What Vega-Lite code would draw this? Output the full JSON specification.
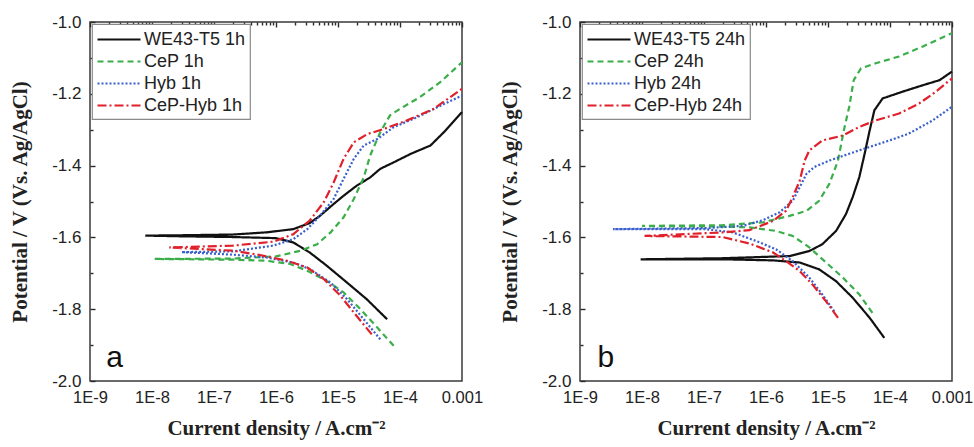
{
"$schema": "https://vega.github.io/schema/vega-lite/v6.json",
"background": "white",
"padding": {"left": 8, "top": 12, "right": 0, "bottom": 5},
"config": {
 "view": {"stroke": "#3a3a3a", "strokeWidth": 1.5},
 "axis": {"domain": false, "ticks": false, "labelFont": "Liberation Sans", "labelFontSize": 17, "labelColor": "#222", "gridColor": "#2a2a2a", "gridWidth": 1.4, "gridOpacity": 1, "titleFont": "Liberation Serif", "titleFontWeight": "bold", "titleFontSize": 21, "titleColor": "#222"},
 "legend": {"orient": "top-left", "offset": 2, "padding": 4, "fillColor": "white", "strokeColor": "#8a8a8a", "strokeWidth": 1.2, "labelFont": "Liberation Sans", "labelFontSize": 18, "labelColor": "#222", "symbolType": "M-1,0H3.3", "symbolSize": 400, "symbolStrokeWidth": 2.2, "labelOffset": 25, "rowPadding": 1, "title": null}
},
"datasets": {
 "a": [
  {"s":"WE43-T5 1h","i":1,"x":6.2e-5,"y":-1.828},{"s":"WE43-T5 1h","i":2,"x":2.9e-5,"y":-1.772},{"s":"WE43-T5 1h","i":3,"x":1.4e-5,"y":-1.726},{"s":"WE43-T5 1h","i":4,"x":6.6e-6,"y":-1.679},{"s":"WE43-T5 1h","i":5,"x":3.5e-6,"y":-1.642},{"s":"WE43-T5 1h","i":6,"x":1.9e-6,"y":-1.614},{"s":"WE43-T5 1h","i":7,"x":1.0e-6,"y":-1.602},{"s":"WE43-T5 1h","i":8,"x":2e-7,"y":-1.599},{"s":"WE43-T5 1h","i":9,"x":3e-8,"y":-1.597},{"s":"WE43-T5 1h","i":10,"x":7.8e-9,"y":-1.595},{"s":"WE43-T5 1h","i":11,"x":3e-8,"y":-1.594},{"s":"WE43-T5 1h","i":12,"x":2e-7,"y":-1.592},{"s":"WE43-T5 1h","i":13,"x":7e-7,"y":-1.586},{"s":"WE43-T5 1h","i":14,"x":1.9e-6,"y":-1.577},{"s":"WE43-T5 1h","i":15,"x":3.5e-6,"y":-1.560},{"s":"WE43-T5 1h","i":16,"x":5.1e-6,"y":-1.540},{"s":"WE43-T5 1h","i":17,"x":8.5e-6,"y":-1.507},{"s":"WE43-T5 1h","i":18,"x":1.23e-5,"y":-1.484},{"s":"WE43-T5 1h","i":19,"x":2e-5,"y":-1.456},{"s":"WE43-T5 1h","i":20,"x":3.3e-5,"y":-1.433},{"s":"WE43-T5 1h","i":21,"x":4.8e-5,"y":-1.409},{"s":"WE43-T5 1h","i":22,"x":7.9e-5,"y":-1.391},{"s":"WE43-T5 1h","i":23,"x":1.5e-4,"y":-1.367},{"s":"WE43-T5 1h","i":24,"x":3.1e-4,"y":-1.344},{"s":"WE43-T5 1h","i":25,"x":5.1e-4,"y":-1.307},{"s":"WE43-T5 1h","i":26,"x":1e-3,"y":-1.251},
  {"s":"CeP 1h","i":1,"x":7.9e-5,"y":-1.902},{"s":"CeP 1h","i":2,"x":4.3e-5,"y":-1.851},{"s":"CeP 1h","i":3,"x":2.3e-5,"y":-1.800},{"s":"CeP 1h","i":4,"x":1.23e-5,"y":-1.753},{"s":"CeP 1h","i":5,"x":6.6e-6,"y":-1.721},{"s":"CeP 1h","i":6,"x":3.2e-6,"y":-1.693},{"s":"CeP 1h","i":7,"x":1.7e-6,"y":-1.674},{"s":"CeP 1h","i":8,"x":7e-7,"y":-1.665},{"s":"CeP 1h","i":9,"x":2e-7,"y":-1.662},{"s":"CeP 1h","i":10,"x":1.1e-8,"y":-1.660},{"s":"CeP 1h","i":11,"x":2e-7,"y":-1.659},{"s":"CeP 1h","i":12,"x":1e-6,"y":-1.653},{"s":"CeP 1h","i":13,"x":2.5e-6,"y":-1.637},{"s":"CeP 1h","i":14,"x":4.6e-6,"y":-1.619},{"s":"CeP 1h","i":15,"x":7.6e-6,"y":-1.586},{"s":"CeP 1h","i":16,"x":1.23e-5,"y":-1.544},{"s":"CeP 1h","i":17,"x":1.8e-5,"y":-1.493},{"s":"CeP 1h","i":18,"x":2.6e-5,"y":-1.433},{"s":"CeP 1h","i":19,"x":3.3e-5,"y":-1.372},{"s":"CeP 1h","i":20,"x":4.8e-5,"y":-1.307},{"s":"CeP 1h","i":21,"x":6.9e-5,"y":-1.260},{"s":"CeP 1h","i":22,"x":1e-4,"y":-1.242},{"s":"CeP 1h","i":23,"x":2.1e-4,"y":-1.209},{"s":"CeP 1h","i":24,"x":4.5e-4,"y":-1.167},{"s":"CeP 1h","i":25,"x":1e-3,"y":-1.112},
  {"s":"Hyb 1h","i":1,"x":4.8e-5,"y":-1.884},{"s":"Hyb 1h","i":2,"x":2.6e-5,"y":-1.828},{"s":"Hyb 1h","i":3,"x":1.4e-5,"y":-1.772},{"s":"Hyb 1h","i":4,"x":7.6e-6,"y":-1.726},{"s":"Hyb 1h","i":5,"x":3.5e-6,"y":-1.688},{"s":"Hyb 1h","i":6,"x":1.9e-6,"y":-1.670},{"s":"Hyb 1h","i":7,"x":7e-7,"y":-1.656},{"s":"Hyb 1h","i":8,"x":2e-7,"y":-1.648},{"s":"Hyb 1h","i":9,"x":3e-8,"y":-1.641},{"s":"Hyb 1h","i":10,"x":2e-7,"y":-1.639},{"s":"Hyb 1h","i":11,"x":9e-7,"y":-1.623},{"s":"Hyb 1h","i":12,"x":1.9e-6,"y":-1.605},{"s":"Hyb 1h","i":13,"x":3.2e-6,"y":-1.577},{"s":"Hyb 1h","i":14,"x":5.1e-6,"y":-1.540},{"s":"Hyb 1h","i":15,"x":8.5e-6,"y":-1.493},{"s":"Hyb 1h","i":16,"x":1.23e-5,"y":-1.437},{"s":"Hyb 1h","i":17,"x":1.8e-5,"y":-1.381},{"s":"Hyb 1h","i":18,"x":2.6e-5,"y":-1.344},{"s":"Hyb 1h","i":19,"x":4.3e-5,"y":-1.326},{"s":"Hyb 1h","i":20,"x":7.9e-5,"y":-1.293},{"s":"Hyb 1h","i":21,"x":1.9e-4,"y":-1.265},{"s":"Hyb 1h","i":22,"x":4.5e-4,"y":-1.233},{"s":"Hyb 1h","i":23,"x":1e-3,"y":-1.205},
  {"s":"CeP-Hyb 1h","i":1,"x":3.5e-5,"y":-1.870},{"s":"CeP-Hyb 1h","i":2,"x":2e-5,"y":-1.819},{"s":"CeP-Hyb 1h","i":3,"x":1.1e-5,"y":-1.763},{"s":"CeP-Hyb 1h","i":4,"x":5.9e-6,"y":-1.716},{"s":"CeP-Hyb 1h","i":5,"x":3.2e-6,"y":-1.684},{"s":"CeP-Hyb 1h","i":6,"x":1.5e-6,"y":-1.665},{"s":"CeP-Hyb 1h","i":7,"x":5.5e-7,"y":-1.649},{"s":"CeP-Hyb 1h","i":8,"x":2e-7,"y":-1.637},{"s":"CeP-Hyb 1h","i":9,"x":1.9e-8,"y":-1.628},{"s":"CeP-Hyb 1h","i":10,"x":2e-7,"y":-1.623},{"s":"CeP-Hyb 1h","i":11,"x":9e-7,"y":-1.612},{"s":"CeP-Hyb 1h","i":12,"x":1.9e-6,"y":-1.591},{"s":"CeP-Hyb 1h","i":13,"x":3.5e-6,"y":-1.553},{"s":"CeP-Hyb 1h","i":14,"x":5.9e-6,"y":-1.502},{"s":"CeP-Hyb 1h","i":15,"x":8.5e-6,"y":-1.447},{"s":"CeP-Hyb 1h","i":16,"x":1.23e-5,"y":-1.381},{"s":"CeP-Hyb 1h","i":17,"x":1.8e-5,"y":-1.335},{"s":"CeP-Hyb 1h","i":18,"x":3e-5,"y":-1.312},{"s":"CeP-Hyb 1h","i":19,"x":5.5e-5,"y":-1.298},{"s":"CeP-Hyb 1h","i":20,"x":1.3e-4,"y":-1.274},{"s":"CeP-Hyb 1h","i":21,"x":3.5e-4,"y":-1.242},{"s":"CeP-Hyb 1h","i":22,"x":1e-3,"y":-1.186}
 ],
 "b": [
  {"s":"WE43-T5 24h","i":1,"x":8.1e-5,"y":-1.880},{"s":"WE43-T5 24h","i":2,"x":4.7e-5,"y":-1.824},{"s":"WE43-T5 24h","i":3,"x":2.5e-5,"y":-1.768},{"s":"WE43-T5 24h","i":4,"x":1.35e-5,"y":-1.722},{"s":"WE43-T5 24h","i":5,"x":7.2e-6,"y":-1.689},{"s":"WE43-T5 24h","i":6,"x":3.5e-6,"y":-1.670},{"s":"WE43-T5 24h","i":7,"x":1.3e-6,"y":-1.664},{"s":"WE43-T5 24h","i":8,"x":2e-7,"y":-1.661},{"s":"WE43-T5 24h","i":9,"x":9.5e-9,"y":-1.661},{"s":"WE43-T5 24h","i":10,"x":2e-7,"y":-1.658},{"s":"WE43-T5 24h","i":11,"x":2.4e-6,"y":-1.652},{"s":"WE43-T5 24h","i":12,"x":5e-6,"y":-1.638},{"s":"WE43-T5 24h","i":13,"x":8.1e-6,"y":-1.619},{"s":"WE43-T5 24h","i":14,"x":1.35e-5,"y":-1.582},{"s":"WE43-T5 24h","i":15,"x":1.95e-5,"y":-1.535},{"s":"WE43-T5 24h","i":16,"x":2.5e-5,"y":-1.488},{"s":"WE43-T5 24h","i":17,"x":3.2e-5,"y":-1.432},{"s":"WE43-T5 24h","i":18,"x":3.9e-5,"y":-1.367},{"s":"WE43-T5 24h","i":19,"x":4.7e-5,"y":-1.302},{"s":"WE43-T5 24h","i":20,"x":5.6e-5,"y":-1.246},{"s":"WE43-T5 24h","i":21,"x":7.6e-5,"y":-1.213},{"s":"WE43-T5 24h","i":22,"x":1.6e-4,"y":-1.194},{"s":"WE43-T5 24h","i":23,"x":3.4e-4,"y":-1.176},{"s":"WE43-T5 24h","i":24,"x":6.3e-4,"y":-1.162},{"s":"WE43-T5 24h","i":25,"x":1e-3,"y":-1.138},
  {"s":"CeP 24h","i":1,"x":5.2e-5,"y":-1.810},{"s":"CeP 24h","i":2,"x":3.2e-5,"y":-1.759},{"s":"CeP 24h","i":3,"x":1.74e-5,"y":-1.712},{"s":"CeP 24h","i":4,"x":9.3e-6,"y":-1.670},{"s":"CeP 24h","i":5,"x":5e-6,"y":-1.628},{"s":"CeP 24h","i":6,"x":2.7e-6,"y":-1.596},{"s":"CeP 24h","i":7,"x":1.45e-6,"y":-1.582},{"s":"CeP 24h","i":8,"x":5.4e-7,"y":-1.572},{"s":"CeP 24h","i":9,"x":2e-7,"y":-1.570},{"s":"CeP 24h","i":10,"x":1e-8,"y":-1.568},{"s":"CeP 24h","i":11,"x":2e-7,"y":-1.566},{"s":"CeP 24h","i":12,"x":8.9e-7,"y":-1.558},{"s":"CeP 24h","i":13,"x":2.4e-6,"y":-1.540},{"s":"CeP 24h","i":14,"x":4.5e-6,"y":-1.526},{"s":"CeP 24h","i":15,"x":7.2e-6,"y":-1.498},{"s":"CeP 24h","i":16,"x":1.05e-5,"y":-1.451},{"s":"CeP 24h","i":17,"x":1.45e-5,"y":-1.386},{"s":"CeP 24h","i":18,"x":1.8e-5,"y":-1.302},{"s":"CeP 24h","i":19,"x":2.2e-5,"y":-1.236},{"s":"CeP 24h","i":20,"x":2.6e-5,"y":-1.162},{"s":"CeP 24h","i":21,"x":3.4e-5,"y":-1.129},{"s":"CeP 24h","i":22,"x":5.9e-5,"y":-1.115},{"s":"CeP 24h","i":23,"x":1.4e-4,"y":-1.096},{"s":"CeP 24h","i":24,"x":3.4e-4,"y":-1.068},{"s":"CeP 24h","i":25,"x":1e-3,"y":-1.031},
  {"s":"Hyb 24h","i":1,"x":1.26e-5,"y":-1.806},{"s":"Hyb 24h","i":2,"x":8.1e-6,"y":-1.759},{"s":"Hyb 24h","i":3,"x":5e-6,"y":-1.712},{"s":"Hyb 24h","i":4,"x":2.7e-6,"y":-1.666},{"s":"Hyb 24h","i":5,"x":1.45e-6,"y":-1.633},{"s":"Hyb 24h","i":6,"x":6.9e-7,"y":-1.610},{"s":"Hyb 24h","i":7,"x":2.9e-7,"y":-1.586},{"s":"Hyb 24h","i":8,"x":1.07e-7,"y":-1.577},{"s":"Hyb 24h","i":9,"x":3.4e-9,"y":-1.577},{"s":"Hyb 24h","i":10,"x":1.07e-7,"y":-1.574},{"s":"Hyb 24h","i":11,"x":4.2e-7,"y":-1.568},{"s":"Hyb 24h","i":12,"x":8.9e-7,"y":-1.552},{"s":"Hyb 24h","i":13,"x":1.66e-6,"y":-1.530},{"s":"Hyb 24h","i":14,"x":2.7e-6,"y":-1.498},{"s":"Hyb 24h","i":15,"x":3.5e-6,"y":-1.460},{"s":"Hyb 24h","i":16,"x":4.5e-6,"y":-1.423},{"s":"Hyb 24h","i":17,"x":6e-6,"y":-1.404},{"s":"Hyb 24h","i":18,"x":1.05e-5,"y":-1.386},{"s":"Hyb 24h","i":19,"x":2.2e-5,"y":-1.367},{"s":"Hyb 24h","i":20,"x":4.7e-5,"y":-1.348},{"s":"Hyb 24h","i":21,"x":9.8e-5,"y":-1.330},{"s":"Hyb 24h","i":22,"x":2e-4,"y":-1.311},{"s":"Hyb 24h","i":23,"x":4.9e-4,"y":-1.274},{"s":"Hyb 24h","i":24,"x":1e-3,"y":-1.236},
  {"s":"CeP-Hyb 24h","i":1,"x":1.45e-5,"y":-1.824},{"s":"CeP-Hyb 24h","i":2,"x":9.3e-6,"y":-1.778},{"s":"CeP-Hyb 24h","i":3,"x":5.6e-6,"y":-1.731},{"s":"CeP-Hyb 24h","i":4,"x":3.5e-6,"y":-1.694},{"s":"CeP-Hyb 24h","i":5,"x":2.1e-6,"y":-1.666},{"s":"CeP-Hyb 24h","i":6,"x":1.3e-6,"y":-1.642},{"s":"CeP-Hyb 24h","i":7,"x":5.4e-7,"y":-1.617},{"s":"CeP-Hyb 24h","i":8,"x":2e-7,"y":-1.599},{"s":"CeP-Hyb 24h","i":9,"x":1.1e-8,"y":-1.596},{"s":"CeP-Hyb 24h","i":10,"x":2e-7,"y":-1.586},{"s":"CeP-Hyb 24h","i":11,"x":5.4e-7,"y":-1.580},{"s":"CeP-Hyb 24h","i":12,"x":1.3e-6,"y":-1.554},{"s":"CeP-Hyb 24h","i":13,"x":2.1e-6,"y":-1.526},{"s":"CeP-Hyb 24h","i":14,"x":2.7e-6,"y":-1.488},{"s":"CeP-Hyb 24h","i":15,"x":3.5e-6,"y":-1.442},{"s":"CeP-Hyb 24h","i":16,"x":4.2e-6,"y":-1.386},{"s":"CeP-Hyb 24h","i":17,"x":5e-6,"y":-1.358},{"s":"CeP-Hyb 24h","i":18,"x":8.1e-6,"y":-1.330},{"s":"CeP-Hyb 24h","i":19,"x":1.74e-5,"y":-1.316},{"s":"CeP-Hyb 24h","i":20,"x":3.2e-5,"y":-1.292},{"s":"CeP-Hyb 24h","i":21,"x":5.9e-5,"y":-1.274},{"s":"CeP-Hyb 24h","i":22,"x":1.4e-4,"y":-1.255},{"s":"CeP-Hyb 24h","i":23,"x":2.95e-4,"y":-1.227},{"s":"CeP-Hyb 24h","i":24,"x":5.5e-4,"y":-1.194},{"s":"CeP-Hyb 24h","i":25,"x":1e-3,"y":-1.157}
 ]
},
"spacing": 118,
"bounds": "flush",
"hconcat": [
 {
  "width": 372, "height": 359,
  "layer": [
   {"data": {"name": "a"}, "mark": {"type": "line", "strokeWidth": 2.2},
    "encoding": {
     "x": {"field": "x", "type": "quantitative", "scale": {"type": "log", "domain": [1e-9, 0.001]}, "axis": {"values": [1e-9,1e-8,1e-7,1e-6,1e-5,1e-4,0.001], "labelExpr": "datum.value > 0.0009 ? '0.001' : '1E' + round(log(datum.value)/LN10)", "grid": true, "gridDash": [5, 2000], "labelPadding": 8, "labelFontSize": 16.5, "labelFlush": false, "labelOverlap": false, "title": "Current density / A.cm⁻²", "titlePadding": 12}},
     "y": {"field": "y", "type": "quantitative", "scale": {"domain": [-2, -1]}, "axis": {"values": [-2,-1.8,-1.6,-1.4,-1.2,-1], "labelExpr": "'-' + format(abs(datum.value), '.1f')", "grid": true, "gridDash": [5, 2000], "labelPadding": 9, "labelFlush": false, "labelOverlap": false, "title": "Potential / V (Vs. Ag/AgCl)", "titlePadding": 21}},
     "order": {"field": "i", "type": "quantitative"},
     "color": {"field": "s", "type": "nominal", "scale": {"domain": ["WE43-T5 1h","CeP 1h","Hyb 1h","CeP-Hyb 1h"], "range": ["#111111","#3bae4a","#3a5fcd","#e0202a"]}, "legend": {"title": null}},
     "strokeDash": {"field": "s", "type": "nominal", "scale": {"domain": ["WE43-T5 1h","CeP 1h","Hyb 1h","CeP-Hyb 1h"], "range": [[1,0],[6,4],[2,2],[9,3,2,3]]}, "legend": {"title": null}}
    }},
   {"data": {"values": [{"x": 2.5e-9, "y": -1.962, "t": "a"}]}, "mark": {"type": "text", "font": "Liberation Sans", "fontSize": 30, "align": "center", "baseline": "alphabetic", "color": "#111"},
    "encoding": {
     "x": {"field": "x", "type": "quantitative", "scale": {"type": "log", "domain": [1e-9, 0.001]}, "axis": {"orient": "bottom", "values": [2e-9,3e-9,4e-9,5e-9,6e-9,7e-9,8e-9,9e-9,2e-8,3e-8,4e-8,5e-8,6e-8,7e-8,8e-8,9e-8,2e-7,3e-7,4e-7,5e-7,6e-7,7e-7,8e-7,9e-7,2e-6,3e-6,4e-6,5e-6,6e-6,7e-6,8e-6,9e-6,2e-5,3e-5,4e-5,5e-5,6e-5,7e-5,8e-5,9e-5,2e-4,3e-4,4e-4,5e-4,6e-4,7e-4,8e-4,9e-4], "labels": false, "grid": true, "gridDash": [3, 2000], "title": null}},
     "y": {"field": "y", "type": "quantitative", "scale": {"domain": [-2, -1]}, "axis": {"orient": "left", "values": [-1.9,-1.7,-1.5,-1.3,-1.1], "labels": false, "grid": true, "gridDash": [3, 2000], "title": null}},
     "text": {"field": "t"}
    }}
  ],
  "resolve": {"axis": {"x": "independent", "y": "independent"}}
 },
 {
  "width": 372, "height": 359,
  "layer": [
   {"data": {"name": "b"}, "mark": {"type": "line", "strokeWidth": 2.2},
    "encoding": {
     "x": {"field": "x", "type": "quantitative", "scale": {"type": "log", "domain": [1e-9, 0.001]}, "axis": {"values": [1e-9,1e-8,1e-7,1e-6,1e-5,1e-4,0.001], "labelExpr": "datum.value > 0.0009 ? '0.001' : '1E' + round(log(datum.value)/LN10)", "grid": true, "gridDash": [5, 2000], "labelPadding": 8, "labelFontSize": 16.5, "labelFlush": false, "labelOverlap": false, "title": "Current density / A.cm⁻²", "titlePadding": 12}},
     "y": {"field": "y", "type": "quantitative", "scale": {"domain": [-2, -1]}, "axis": {"values": [-2,-1.8,-1.6,-1.4,-1.2,-1], "labelExpr": "'-' + format(abs(datum.value), '.1f')", "grid": true, "gridDash": [5, 2000], "labelPadding": 9, "labelFlush": false, "labelOverlap": false, "title": "Potential / V (Vs. Ag/AgCl)", "titlePadding": 21}},
     "order": {"field": "i", "type": "quantitative"},
     "color": {"field": "s", "type": "nominal", "scale": {"domain": ["WE43-T5 24h","CeP 24h","Hyb 24h","CeP-Hyb 24h"], "range": ["#111111","#3bae4a","#3a5fcd","#e0202a"]}, "legend": {"title": null}},
     "strokeDash": {"field": "s", "type": "nominal", "scale": {"domain": ["WE43-T5 24h","CeP 24h","Hyb 24h","CeP-Hyb 24h"], "range": [[1,0],[6,4],[2,2],[9,3,2,3]]}, "legend": {"title": null}}
    }},
   {"data": {"values": [{"x": 2.6e-9, "y": -1.962, "t": "b"}]}, "mark": {"type": "text", "font": "Liberation Sans", "fontSize": 30, "align": "center", "baseline": "alphabetic", "color": "#111"},
    "encoding": {
     "x": {"field": "x", "type": "quantitative", "scale": {"type": "log", "domain": [1e-9, 0.001]}, "axis": {"orient": "bottom", "values": [2e-9,3e-9,4e-9,5e-9,6e-9,7e-9,8e-9,9e-9,2e-8,3e-8,4e-8,5e-8,6e-8,7e-8,8e-8,9e-8,2e-7,3e-7,4e-7,5e-7,6e-7,7e-7,8e-7,9e-7,2e-6,3e-6,4e-6,5e-6,6e-6,7e-6,8e-6,9e-6,2e-5,3e-5,4e-5,5e-5,6e-5,7e-5,8e-5,9e-5,2e-4,3e-4,4e-4,5e-4,6e-4,7e-4,8e-4,9e-4], "labels": false, "grid": true, "gridDash": [3, 2000], "title": null}},
     "y": {"field": "y", "type": "quantitative", "scale": {"domain": [-2, -1]}, "axis": {"orient": "left", "values": [-1.9,-1.7,-1.5,-1.3,-1.1], "labels": false, "grid": true, "gridDash": [3, 2000], "title": null}},
     "text": {"field": "t"}
    }}
  ],
  "resolve": {"axis": {"x": "independent", "y": "independent"}}
 }
],
"resolve": {"scale": {"color": "independent", "strokeDash": "independent", "x": "independent", "y": "independent"}, "legend": {"color": "independent", "strokeDash": "independent"}}
}
